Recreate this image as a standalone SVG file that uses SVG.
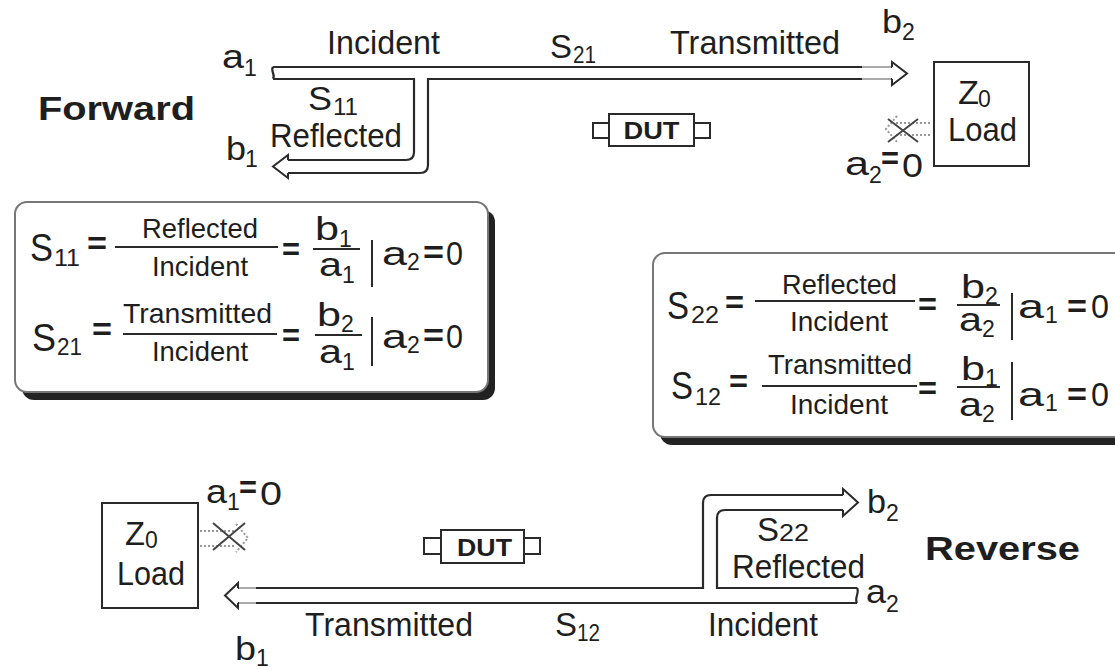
<svg xmlns="http://www.w3.org/2000/svg" width="1115" height="670" viewBox="0 0 1115 670">
<style>
text{font-family:"Liberation Sans",Arial,Helvetica,sans-serif;fill:#1e1e1e}
.lb{font-size:33px}
.sb{font-size:23px}
.fr{font-size:28px}
.fs{font-size:38px}
.bd{font-weight:bold}
.ln{fill:none;stroke:#2a2a2a;stroke-width:2.2}
.gl{fill:none;stroke:#aaa;stroke-width:2.2}
.hd{fill:#fff;stroke:#2a2a2a;stroke-width:2}
.bx{fill:#fff;stroke:#2a2a2a;stroke-width:2}
.fl{stroke:#2a2a2a;stroke-width:2}
.dt{fill:none;stroke:#999;stroke-width:2;stroke-dasharray:2 2}
.xx{fill:none;stroke:#444;stroke-width:2}
.eq{font-size:32px;font-weight:bold}
</style>
<rect width="1115" height="670" fill="#fff"/>

<g id="connectors">
  <path class="ln" d="M273,67 H892"/>
  <path class="ln" d="M273,79 H414 V152 Q414,160 406,160 H288"/>
  <path class="ln" d="M892,79 H428 V165 Q428,173 420,173 H288"/>
  <path class="gl" d="M862,67 H891 M862,79 H891"/>
  <path class="ln" d="M273,67 C270,71 276,75 273,79"/>
  <path class="hd" d="M892,67 V62 L907,73.5 L892,85 V79"/>
  <path class="hd" d="M288,160 V155 L273,166.5 L288,178 V173"/>
  <path class="ln" d="M238,588 H703 V503 Q703,495 711,495 H843"/>
  <path class="ln" d="M857,588 H717 V518 Q717,510 725,510 H843"/>
  <path class="ln" d="M238,603 H857"/>
  <path class="gl" d="M239,588 H256 M239,603 H256"/>
  <path class="ln" d="M857,588 C860,592 854,598 857,603"/>
  <path class="hd" d="M238,588 V583 L225,595.5 L238,608 V603"/>
  <path class="hd" d="M843,495 V489 L858,502.5 L843,516 V510"/>
  <path class="dt" d="M896,123 H932 M896,135 H932"/>
  <path class="dt" d="M897,116 L886,129 L897,142"/>
  <path class="xx" d="M888,119 L918,142 M888,142 L918,119"/>
  <path class="dt" d="M200,531 H236 M200,546 H236"/>
  <path class="dt" d="M236,524 L248,538 L236,552"/>
  <path class="xx" d="M213,523 L245,550 M213,550 L245,523"/>
</g>

<g id="forward-labels">
  <text class="lb" x="222" y="68" textLength="22" lengthAdjust="spacingAndGlyphs">a</text>
  <text class="sb" x="244" y="76">1</text>
  <text class="lb" x="327" y="54" textLength="113" lengthAdjust="spacingAndGlyphs">Incident</text>
  <text class="lb" x="550" y="58" textLength="22" lengthAdjust="spacingAndGlyphs">S</text>
  <text class="sb" x="573" y="63" textLength="23" lengthAdjust="spacingAndGlyphs">21</text>
  <text class="lb" x="670" y="54" textLength="170" lengthAdjust="spacingAndGlyphs">Transmitted</text>
  <text class="lb" x="882" y="33" textLength="20" lengthAdjust="spacingAndGlyphs">b</text>
  <text class="sb" x="902" y="40">2</text>
  <text class="bd" font-size="33" x="38" y="120" textLength="157" lengthAdjust="spacingAndGlyphs">Forward</text>
  <text class="lb" x="308" y="110" textLength="24" lengthAdjust="spacingAndGlyphs">S</text>
  <text class="sb" x="333" y="115" textLength="25" lengthAdjust="spacingAndGlyphs">11</text>
  <text class="lb" x="270" y="147" textLength="132" lengthAdjust="spacingAndGlyphs">Reflected</text>
  <text class="lb" x="226" y="160" textLength="20" lengthAdjust="spacingAndGlyphs">b</text>
  <text class="sb" x="245" y="167">1</text>
  <text class="lb" x="845" y="175" textLength="24" lengthAdjust="spacingAndGlyphs">a</text>
  <text class="sb" x="869" y="183">2</text>
  <text class="eq" x="881" y="169" textLength="18" lengthAdjust="spacingAndGlyphs">=</text>
  <text class="lb" x="902" y="177" textLength="21" lengthAdjust="spacingAndGlyphs">0</text>
</g>

<g id="dut-forward">
  <rect class="bx" x="593" y="123" width="16" height="15"/>
  <rect class="bx" x="694" y="123" width="16" height="15"/>
  <rect class="bx" x="609" y="114" width="85" height="32"/>
  <text class="bd" x="651.5" y="139" font-size="23" text-anchor="middle" textLength="56" lengthAdjust="spacingAndGlyphs">DUT</text>
</g>

<g id="load-forward">
  <rect class="bx" x="934" y="62" width="95" height="104"/>
  <text class="lb" x="958" y="104" textLength="21" lengthAdjust="spacingAndGlyphs">Z</text>
  <text class="sb" x="978" y="107">0</text>
  <text class="lb" x="948" y="141" textLength="69" lengthAdjust="spacingAndGlyphs">Load</text>
</g>

<g id="formula-forward">
  <rect x="22" y="210" width="473" height="190" rx="12" fill="#222"/>
  <rect x="15" y="202" width="473" height="190" rx="12" fill="#fff" stroke="#777" stroke-width="2"/>
  <text class="fs" x="30" y="261" textLength="23" lengthAdjust="spacingAndGlyphs">S</text>
  <text class="sb" x="54" y="266" textLength="26" lengthAdjust="spacingAndGlyphs">11</text>
  <text class="eq" x="87" y="254" textLength="20" lengthAdjust="spacingAndGlyphs">=</text>
  <text class="fr" x="142" y="238" textLength="116" lengthAdjust="spacingAndGlyphs">Reflected</text>
  <line class="fl" x1="115" y1="247" x2="278" y2="247"/>
  <text class="fr" x="152" y="276" textLength="96" lengthAdjust="spacingAndGlyphs">Incident</text>
  <text class="eq" x="282" y="260" textLength="18" lengthAdjust="spacingAndGlyphs">=</text>
  <text class="lb" x="315" y="240" textLength="24" lengthAdjust="spacingAndGlyphs">b</text>
  <text class="sb" x="339" y="247">1</text>
  <line class="fl" x1="313" y1="249" x2="360" y2="249"/>
  <text class="lb" x="319" y="276" textLength="23" lengthAdjust="spacingAndGlyphs">a</text>
  <text class="sb" x="342" y="283">1</text>
  <line class="fl" x1="372" y1="240" x2="372" y2="287"/>
  <text class="lb" x="382" y="265" textLength="25" lengthAdjust="spacingAndGlyphs">a</text>
  <text class="sb" x="407" y="270">2</text>
  <text class="eq" x="423" y="263" textLength="21" lengthAdjust="spacingAndGlyphs">=</text>
  <text class="lb" x="446" y="265" textLength="17" lengthAdjust="spacingAndGlyphs">0</text>

  <text class="fs" x="32" y="351" textLength="24" lengthAdjust="spacingAndGlyphs">S</text>
  <text class="sb" x="57" y="355" textLength="25" lengthAdjust="spacingAndGlyphs">21</text>
  <text class="eq" x="92" y="340" textLength="20" lengthAdjust="spacingAndGlyphs">=</text>
  <text class="fr" x="123" y="323" textLength="149" lengthAdjust="spacingAndGlyphs">Transmitted</text>
  <line class="fl" x1="123" y1="334" x2="277" y2="334"/>
  <text class="fr" x="152" y="361" textLength="96" lengthAdjust="spacingAndGlyphs">Incident</text>
  <text class="eq" x="282" y="346" textLength="18" lengthAdjust="spacingAndGlyphs">=</text>
  <text class="lb" x="317" y="326" textLength="24" lengthAdjust="spacingAndGlyphs">b</text>
  <text class="sb" x="341" y="332">2</text>
  <line class="fl" x1="315" y1="335" x2="362" y2="335"/>
  <text class="lb" x="319" y="363" textLength="23" lengthAdjust="spacingAndGlyphs">a</text>
  <text class="sb" x="342" y="370">1</text>
  <line class="fl" x1="372" y1="317" x2="372" y2="366"/>
  <text class="lb" x="382" y="348" textLength="25" lengthAdjust="spacingAndGlyphs">a</text>
  <text class="sb" x="407" y="353">2</text>
  <text class="eq" x="423" y="346" textLength="21" lengthAdjust="spacingAndGlyphs">=</text>
  <text class="lb" x="446" y="348" textLength="17" lengthAdjust="spacingAndGlyphs">0</text>
</g>

<g id="formula-reverse">
  <rect x="660" y="261" width="480" height="184" rx="12" fill="#222"/>
  <rect x="653" y="253" width="480" height="184" rx="12" fill="#fff" stroke="#777" stroke-width="2"/>
  <text class="fs" x="667" y="319" textLength="22" lengthAdjust="spacingAndGlyphs">S</text>
  <text class="sb" x="691" y="323" textLength="28" lengthAdjust="spacingAndGlyphs">22</text>
  <text class="eq" x="725" y="313" textLength="19" lengthAdjust="spacingAndGlyphs">=</text>
  <text class="fr" x="782" y="294" textLength="115" lengthAdjust="spacingAndGlyphs">Reflected</text>
  <line class="fl" x1="755" y1="301" x2="915" y2="301"/>
  <text class="fr" x="790" y="331" textLength="98" lengthAdjust="spacingAndGlyphs">Incident</text>
  <text class="eq" x="918" y="315" textLength="19" lengthAdjust="spacingAndGlyphs">=</text>
  <text class="lb" x="961" y="298" textLength="24" lengthAdjust="spacingAndGlyphs">b</text>
  <text class="sb" x="985" y="304">2</text>
  <line class="fl" x1="957" y1="305" x2="1000" y2="305"/>
  <text class="lb" x="959" y="331" textLength="23" lengthAdjust="spacingAndGlyphs">a</text>
  <text class="sb" x="982" y="337">2</text>
  <line class="fl" x1="1012" y1="293" x2="1012" y2="340"/>
  <text class="lb" x="1018" y="318" textLength="26" lengthAdjust="spacingAndGlyphs">a</text>
  <text class="sb" x="1045" y="323">1</text>
  <text class="eq" x="1067" y="317" textLength="20" lengthAdjust="spacingAndGlyphs">=</text>
  <text class="lb" x="1091" y="318" textLength="18" lengthAdjust="spacingAndGlyphs">0</text>

  <text class="fs" x="671" y="399" textLength="22" lengthAdjust="spacingAndGlyphs">S</text>
  <text class="sb" x="695" y="405" textLength="26" lengthAdjust="spacingAndGlyphs">12</text>
  <text class="eq" x="729" y="392" textLength="19" lengthAdjust="spacingAndGlyphs">=</text>
  <text class="fr" x="768" y="374" textLength="144" lengthAdjust="spacingAndGlyphs">Transmitted</text>
  <line class="fl" x1="762" y1="386" x2="917" y2="386"/>
  <text class="fr" x="790" y="414" textLength="98" lengthAdjust="spacingAndGlyphs">Incident</text>
  <text class="eq" x="918" y="399" textLength="19" lengthAdjust="spacingAndGlyphs">=</text>
  <text class="lb" x="961" y="380" textLength="24" lengthAdjust="spacingAndGlyphs">b</text>
  <text class="sb" x="985" y="386">1</text>
  <line class="fl" x1="957" y1="387" x2="1000" y2="387"/>
  <text class="lb" x="959" y="416" textLength="23" lengthAdjust="spacingAndGlyphs">a</text>
  <text class="sb" x="982" y="422">2</text>
  <line class="fl" x1="1012" y1="362" x2="1012" y2="420"/>
  <text class="lb" x="1018" y="406" textLength="26" lengthAdjust="spacingAndGlyphs">a</text>
  <text class="sb" x="1045" y="411">1</text>
  <text class="eq" x="1067" y="405" textLength="20" lengthAdjust="spacingAndGlyphs">=</text>
  <text class="lb" x="1091" y="406" textLength="18" lengthAdjust="spacingAndGlyphs">0</text>
</g>

<g id="load-reverse">
  <rect class="bx" x="102" y="503" width="96" height="105"/>
  <text class="lb" x="125" y="545" textLength="20" lengthAdjust="spacingAndGlyphs">Z</text>
  <text class="sb" x="145" y="548">0</text>
  <text class="lb" x="117" y="585" textLength="68" lengthAdjust="spacingAndGlyphs">Load</text>
</g>

<g id="dut-reverse">
  <rect class="bx" x="424" y="538" width="17" height="16"/>
  <rect class="bx" x="524" y="538" width="16" height="16"/>
  <rect class="bx" x="441" y="530" width="83" height="33"/>
  <text class="bd" x="484.5" y="556" font-size="23" text-anchor="middle" textLength="55" lengthAdjust="spacingAndGlyphs">DUT</text>
</g>

<g id="reverse-labels">
  <text class="lb" x="206" y="503" textLength="21" lengthAdjust="spacingAndGlyphs">a</text>
  <text class="sb" x="227" y="510">1</text>
  <text class="eq" x="239" y="498" textLength="18" lengthAdjust="spacingAndGlyphs">=</text>
  <text class="lb" x="260" y="505" textLength="22" lengthAdjust="spacingAndGlyphs">0</text>
  <text class="lb" x="867" y="513" textLength="19" lengthAdjust="spacingAndGlyphs">b</text>
  <text class="sb" x="886" y="521">2</text>
  <text class="lb" x="757" y="541" textLength="22" lengthAdjust="spacingAndGlyphs">S</text>
  <text class="sb" x="779" y="541" textLength="30" lengthAdjust="spacingAndGlyphs">22</text>
  <text class="lb" x="732" y="578" textLength="133" lengthAdjust="spacingAndGlyphs">Reflected</text>
  <text class="lb" x="866" y="603" textLength="20" lengthAdjust="spacingAndGlyphs">a</text>
  <text class="sb" x="886" y="612">2</text>
  <text class="bd" font-size="33" x="925" y="560" textLength="155" lengthAdjust="spacingAndGlyphs">Reverse</text>
  <text class="lb" x="305" y="636" textLength="168" lengthAdjust="spacingAndGlyphs">Transmitted</text>
  <text class="lb" x="555" y="636" textLength="22" lengthAdjust="spacingAndGlyphs">S</text>
  <text class="sb" x="577" y="641" textLength="23" lengthAdjust="spacingAndGlyphs">12</text>
  <text class="lb" x="708" y="636" textLength="110" lengthAdjust="spacingAndGlyphs">Incident</text>
  <text class="lb" x="235" y="660" textLength="21" lengthAdjust="spacingAndGlyphs">b</text>
  <text class="sb" x="256" y="666">1</text>
</g>
</svg>
